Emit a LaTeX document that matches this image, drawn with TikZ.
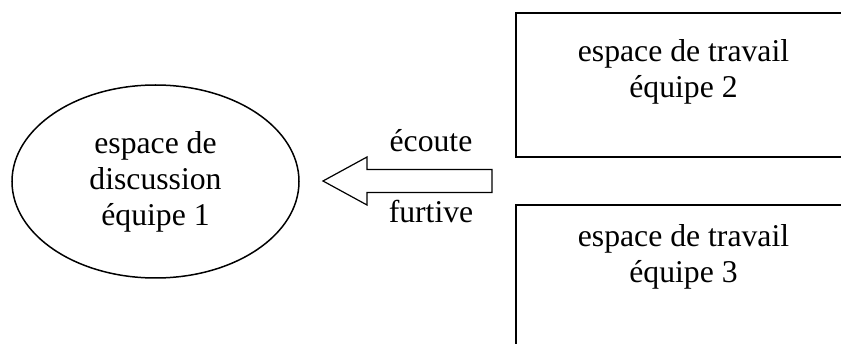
\documentclass[tikz,border=0pt]{standalone}
\usepackage{fontspec}
\setmainfont{Liberation Serif}
\usetikzlibrary{positioning, shapes.geometric}
\tikzset{
    space/.style={ellipse, draw=black, line width=1.5pt, minimum width=287pt, minimum height=193pt, inner sep=0pt, align=center},
    work/.style={rectangle, draw=black, line width=1.5pt, minimum width=335pt, minimum height=144pt, inner sep=0pt},
    lbl/.style={align=center, inner sep=0pt},
}

\begin{document}
\begin{tikzpicture}[x=1pt, y=1pt, font=\fontsize{31.7pt}{36pt}\selectfont]
        \useasboundingbox (0,0) rectangle (841,343);
        \node [space] (disc) at (155.5,161.5) {espace de\\discussion\\équipe 1};
        \node [work] (work2) at (683.5,258) {};
        \node [work] (work3) at (683.5,66) {};
        \node [lbl] (text2) [below=27pt of work2.north] {espace de travail\\équipe 2};
        \node [lbl] (text3) [below=20pt of work3.north] {espace de travail\\équipe 3};
        \coordinate (tip) at (323,162);
        \draw [line width=1.2pt] (tip) -- ++(44,24) -- ++(0,-12.5) -- ++(125,0) -- ++(0,-23)
            -- ++(-125,0) -- ++(0,-12.5) -- cycle;
        \node [lbl, anchor=base] (ecoute) at (431,191) {écoute};
        \node [lbl, anchor=base] (furtive) at (431,120) {furtive};
    \end{tikzpicture}
\end{document}
